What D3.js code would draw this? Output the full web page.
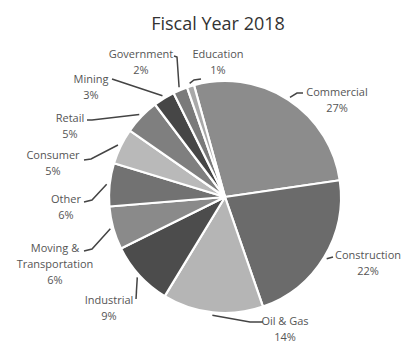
<!DOCTYPE html>
<html>
<head>
<meta charset="utf-8">
<script src="https://cdn.jsdelivr.net/npm/d3@7/dist/d3.min.js"></script>
<style>
  html, body { margin: 0; padding: 0; background: #fff; }
  svg { display: block; }
</style>
</head>
<body>
<script>
// Revenue share by industry, fiscal year 2018 (percent)
const categories = ["Commercial", "Construction", "Oil & Gas", "Industrial",
  "Moving & Transportation", "Other", "Consumer", "Retail", "Mining",
  "Government", "Education"];
const shares = [27, 22, 14, 9, 6, 6, 5, 5, 3, 2, 1];
const labelLines = [["Commercial"], ["Construction"], ["Oil & Gas"], ["Industrial"],
  ["Moving &", "Transportation"], ["Other"], ["Consumer"], ["Retail"], ["Mining"],
  ["Government"], ["Education"]];
const title = "Fiscal Year 2018";

// Greys for each slice, in the same order as the categories
const fills = ["#8c8c8c", "#6b6b6b", "#b5b5b5", "#4c4c4c", "#8a8a8a", "#727272",
  "#b9b9b9", "#7f7f7f", "#464646", "#7a7a7a", "#a9a9a9"];

// Label placement: text centre x, first baseline y, and leader-line bend points
const labelLayout = [
  { x: 337, y: 96,  bends: [[297, 93], [303, 93]] },
  { x: 368, y: 259, bends: [[333, 257]] },
  { x: 285, y: 325, bends: [[250, 322], [263, 322]] },
  { x: 109, y: 304, bends: [[136, 299]] },
  { x: 55,  y: 252, bends: [[92, 249], [84, 251]] },
  { x: 66,  y: 203, bends: [[92, 200], [84, 202]] },
  { x: 53,  y: 159, bends: [[91, 159], [84, 160]] },
  { x: 70,  y: 122, bends: [[92, 120], [87, 120]] },
  { x: 91,  y: 83,  bends: [[112, 79]] },
  { x: 141, y: 58,  bends: [[177, 57], [174, 56]] },
  { x: 218, y: 58,  bends: [[194, 80], [201, 79]] }
];

const W = 404, H = 344;
const cx = 225, cy = 197, R = 116;
const startDeg = -15.5;

const svg = d3.select("body").append("svg")
  .attr("width", W).attr("height", H)
  .style("font-family", "'Open Sans', sans-serif");

svg.append("text")
  .attr("x", 218).attr("y", 30)
  .attr("text-anchor", "middle")
  .attr("fill", "#333")
  .style("font-size", "18px")
  .text(title);

const pie = d3.pie().sort(null).value(d => d)
  .startAngle(startDeg * Math.PI / 180)
  .endAngle((startDeg + 360) * Math.PI / 180);
const arcs = pie(shares);

const arc = d3.arc().innerRadius(0).outerRadius(R);
const edgeArc = d3.arc().innerRadius(119).outerRadius(119);

const g = svg.append("g").attr("transform", `translate(${cx},${cy})`);
g.selectAll("path.slice").data(arcs).join("path")
  .attr("class", "slice")
  .attr("d", arc)
  .attr("fill", (d, i) => fills[i])
  .attr("stroke", "#fff")
  .attr("stroke-width", 2.2)
  .attr("stroke-linejoin", "round");

// Leader lines from each slice edge to its label
const line = d3.line();
svg.selectAll("path.leader").data(arcs).join("path")
  .attr("class", "leader")
  .attr("d", (d, i) => {
    const c = edgeArc.centroid(d);
    const pts = [[cx + c[0], cy + c[1]]].concat(labelLayout[i].bends);
    return line(pts);
  })
  .attr("fill", "none")
  .attr("stroke", "#444")
  .attr("stroke-width", 1.5);

// Category name and percentage
const labels = svg.selectAll("text.lab").data(arcs).join("text")
  .attr("class", "lab")
  .attr("text-anchor", "middle")
  .attr("fill", "#555")
  .style("font-size", "11px");

labels.each(function (d, i) {
  const t = d3.select(this);
  const L = labelLayout[i];
  const rows = labelLines[i].concat([d.data + "%"]);
  rows.forEach((r, k) => {
    t.append("tspan")
      .attr("x", L.x)
      .attr("y", L.y + k * 16)
      .text(r);
  });
});
</script>
</body>
</html>
